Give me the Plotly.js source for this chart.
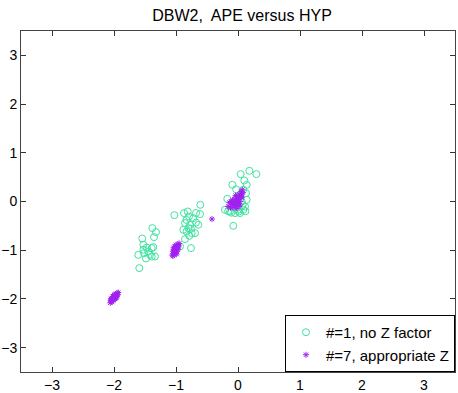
<!DOCTYPE html>
<html>
<head>
<meta charset="utf-8">
<script src="https://cdn.plot.ly/plotly-3.0.1.min.js"></script>
<style>html,body{margin:0;padding:0;background:#fff;}#chart{width:458px;height:393px;}</style>
</head>
<body>
<div id="chart"></div>
<script>
// Series 1: "#=1, no Z factor" (green open circles)
const noZ_x = [
  -1.544,-1.382,-1.323,-1.355,-1.527,-1.473,-1.392,-1.366,-1.608,-1.516,-1.447,-1.419,-1.484,-1.392,-1.339,-1.592,-1.527,
  -1.027,-0.871,-0.812,-0.677,-0.613,-0.608,-0.790,-0.721,-0.855,-0.774,-0.677,-0.640,-0.882,-0.827,-0.747,-0.694,-0.785,-0.855,-0.935,-0.758,-0.800,-0.830,-0.760,
  0.043,0.183,0.296,-0.091,0.102,0.140,0.086,0.129,-0.173,0.140,0.113,-0.210,-0.129,-0.048,0.032,0.086,0.005,-0.076,-0.076,-0.021,0.032,0.060,0.076,-0.160,0.120,-0.110,0.010,-0.030
];
const noZ_y = [
  -0.760,-0.546,-0.628,-0.731,-0.889,-0.945,-0.957,-0.936,-1.095,-1.060,-1.027,-1.095,-1.170,-1.129,-1.129,-1.368,-0.990,
  -0.280,-0.238,-0.205,-0.238,-0.259,-0.068,-0.308,-0.341,-0.444,-0.478,-0.431,-0.478,-0.581,-0.616,-0.649,-0.649,-0.704,-0.772,-0.924,-0.957,-0.546,-0.380,-0.560,
  0.562,0.630,0.562,0.343,0.431,0.343,0.240,0.172,0.055,0.035,-0.103,-0.170,-0.205,-0.238,-0.238,-0.170,-0.170,-0.499,-0.103,0.070,0.138,0.000,-0.068,-0.200,-0.200,-0.230,-0.210,0.250
];
// Series 2: "#=7, appropriate Z" (purple asterisks)
const apZ_x = [
  -2.06,-2.05,-2.04,-2.03,-2.02,-2.01,-2.00,-1.99,-1.98,-1.97,-1.96,-1.95,-1.94,-1.93,-2.05,-2.03,-2.01,-1.99,-1.97,-1.95,-2.02,-2.00,-1.98,-1.96,-2.04,
  -1.06,-1.05,-1.04,-1.03,-1.02,-1.01,-1.00,-0.99,-0.98,-0.97,-0.96,-0.95,-1.05,-1.03,-1.01,-0.99,-0.97,-1.04,-1.02,-1.00,-0.98,-0.96,-1.03,-1.01,-0.99,
  -0.16,-0.12,-0.10,-0.08,-0.06,-0.05,-0.04,-0.03,-0.02,-0.01,0.00,0.01,0.02,0.03,0.04,0.05,0.06,0.07,0.08,-0.14,-0.09,-0.07,-0.02,0.00,0.03,0.05,-0.11,-0.04,0.01,0.06,
  -0.42
];
const apZ_y = [
  -2.08,-2.03,-2.05,-1.99,-2.02,-1.96,-2.00,-1.93,-1.97,-1.90,-1.94,-1.88,-1.91,-1.87,-2.00,-2.06,-2.03,-1.99,-1.96,-1.92,-1.95,-1.91,-2.00,-1.98,-2.01,
  -1.10,-1.02,-1.07,-0.98,-1.04,-0.95,-1.00,-0.91,-0.97,-0.88,-0.93,-0.86,-1.12,-1.09,-1.06,-1.03,-0.99,-0.95,-0.92,-0.89,-0.94,-0.90,-1.01,-0.98,-1.08,
  -0.10,-0.13,-0.05,-0.12,0.00,-0.08,0.05,-0.03,0.10,0.02,-0.10,0.07,0.15,0.00,0.12,0.20,0.08,0.24,0.18,-0.02,0.03,-0.06,-0.14,0.04,-0.07,0.10,0.00,0.12,-0.04,0.16,
  -0.36
];
const tickVals = [-3,-2,-1,0,1,2,3];
const seriesNames = ['#=1, no Z factor', '#=7, appropriate Z'];

const traces = [
  {x: noZ_x, y: noZ_y, type: 'scatter', mode: 'markers', name: seriesNames[0],
   marker: {symbol: 'circle-open', size: 7, color: 'rgb(64,226,160)', line: {width: 1}}},
  {x: apZ_x, y: apZ_y, type: 'scatter', mode: 'markers', name: seriesNames[1],
   marker: {symbol: 'asterisk-open', size: 5, color: 'rgb(160,32,240)', line: {width: 1, color: 'rgb(160,32,240)'}}}
];

const axisCommon = {
  range: [-3.5, 3.5], tickvals: tickVals, ticks: 'inside', ticklen: 5, tickwidth: 1,
  tickcolor: '#333', showline: true, linecolor: '#444', linewidth: 1, mirror: 'ticks',
  showgrid: false, zeroline: false, tickfont: {size: 14, color: '#000'}
};

const layout = {
  width: 458, height: 393,
  margin: {l: 21, r: 3, t: 31, b: 21},
  paper_bgcolor: '#fff', plot_bgcolor: '#fff',
  font: {family: 'Liberation Sans, Arial, sans-serif', color: '#000'},
  title: {text: 'DBW2,\u00a0 APE versus HYP', font: {size: 16}, x: 242/458, xref: 'container', xanchor: 'center', y: 1 - 15/393, yref: 'container', yanchor: 'middle'},
  xaxis: Object.assign({}, axisCommon),
  yaxis: Object.assign({}, axisCommon),
  showlegend: true,
  legend: {x: 1, y: 0, xanchor: 'right', yanchor: 'bottom', bgcolor: '#fff', bordercolor: '#000', borderwidth: 1,
           font: {size: 15}, tracegroupgap: 0, itemwidth: 30}
};

Plotly.newPlot('chart', traces, layout, {displayModeBar: false, staticPlot: true});
</script>
</body>
</html>
